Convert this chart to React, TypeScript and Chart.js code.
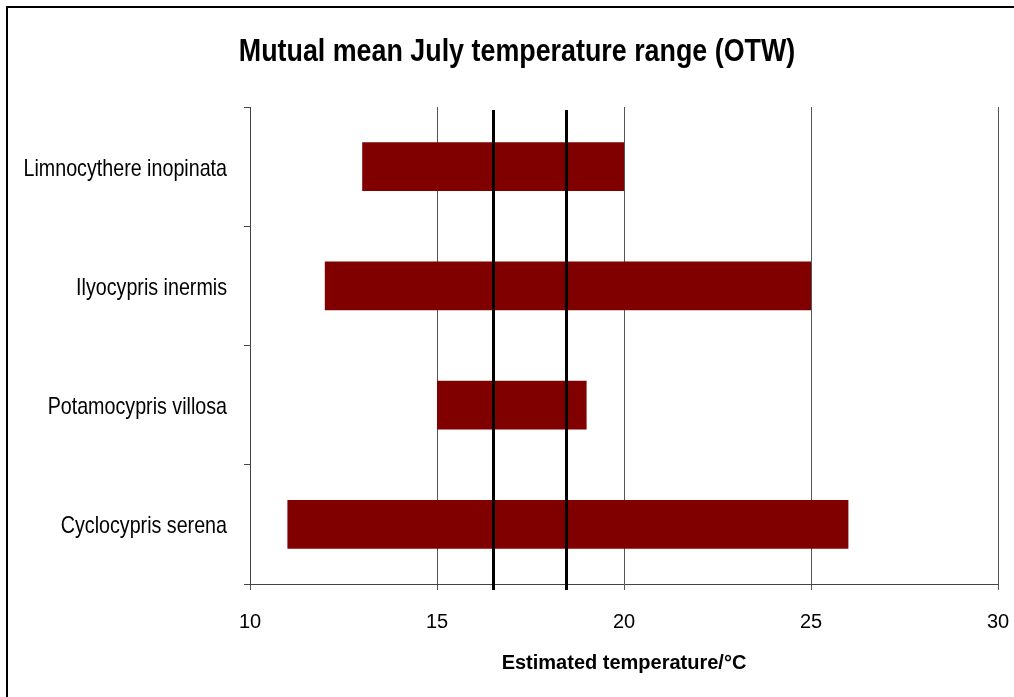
import React, { useEffect, useRef } from "react";
import { Chart, registerables } from "chart.js";

Chart.register(...registerables);

const titleText = "Mutual mean July temperature range (OTW)";
const xAxisTitle = "Estimated temperature/°C";
const species = [
  "Limnocythere inopinata",
  "Ilyocypris inermis",
  "Potamocypris villosa",
  "Cyclocypris serena",
];
const rangeMin = [13, 12, 15, 11];
const rangeMax = [20, 25, 19, 26];
const mutualBounds = [16.5, 18.45];
const xMin = 10;
const xMax = 30;
const xStep = 5;

const ARIAL = "'Liberation Sans', Arial, sans-serif";
const NARROW_SCALE = 0.82;
const TITLE_SCALE = 0.866;

const refLines = {
  id: "refLines",
  afterDatasetsDraw(chart: any) {
    const { ctx, chartArea, scales } = chart;
    const x = scales.x;
    ctx.save();
    ctx.strokeStyle = "#000";
    ctx.lineWidth = 3;
    mutualBounds.forEach((v) => {
      const px = Math.round(x.getPixelForValue(v)) + 0.5;
      ctx.beginPath();
      ctx.moveTo(px, chartArea.top + 3);
      ctx.lineTo(px, chartArea.bottom + 6);
      ctx.stroke();
    });
    ctx.restore();
  },
};

// Draws the title and category labels in a horizontally condensed face
// (the original uses Arial Narrow, which is not installed).
const narrowText = {
  id: "narrowText",
  afterDraw(chart: any) {
    const { ctx, scales } = chart;
    const y = scales.y;
    ctx.save();
    ctx.fillStyle = "#000";
    ctx.font = `bold 31px ${ARIAL}`;
    ctx.textAlign = "center";
    ctx.textBaseline = "alphabetic";
    ctx.save();
    ctx.translate(chart.width / 2 + 10, 61);
    ctx.scale(TITLE_SCALE, 1);
    ctx.fillText(titleText, 0, 0);
    ctx.restore();
    ctx.font = `24px ${ARIAL}`;
    ctx.textAlign = "right";
    species.forEach((label, i) => {
      const py = y.getPixelForTick(i);
      ctx.save();
      ctx.translate(y.right - 23, py + 9);
      ctx.scale(NARROW_SCALE, 1);
      ctx.fillText(label, 0, 0);
      ctx.restore();
    });
    ctx.restore();
  },
};

export default function App() {
  const ref = useRef<HTMLCanvasElement | null>(null);

  useEffect(() => {
    if (!ref.current) return;
    const chart = new Chart(ref.current, {
      type: "bar",
      data: {
        labels: species,
        datasets: [
          {
            label: "Range",
            data: species.map((_, i) => [rangeMin[i], rangeMax[i]]) as any,
            backgroundColor: "#800000",
            borderWidth: 0,
            barPercentage: 0.41,
            categoryPercentage: 1,
          },
        ],
      },
      options: {
        indexAxis: "y",
        responsive: false,
        animation: false,
        devicePixelRatio: 1,
        layout: { padding: { left: 0, right: 16, top: 107, bottom: 0 } },
        plugins: {
          legend: { display: false },
          tooltip: { enabled: false },
          title: { display: false },
        },
        scales: {
          x: {
            type: "linear",
            min: xMin,
            max: xMax,
            afterFit(scale: any) {
              scale.height = 113;
              scale.paddingLeft = 0;
              scale.paddingRight = 0;
            },
            ticks: {
              stepSize: xStep,
              color: "#000",
              font: { family: ARIAL, size: 20 },
              padding: 20,
            },
            grid: {
              color: "#555",
              lineWidth: 1,
              tickLength: 6,
              drawTicks: true,
            },
            border: { display: true, color: "#444", width: 1 },
            title: {
              display: true,
              text: xAxisTitle,
              color: "#000",
              font: { family: ARIAL, size: 20, weight: "bold", lineHeight: 1.2 },
              padding: { top: 0, bottom: 22 },
            },
          },
          y: {
            type: "category",
            offset: true,
            afterFit(scale: any) {
              scale.width = 250;
              scale.paddingTop = 0;
              scale.paddingBottom = 0;
            },
            ticks: {
              display: false,
            },
            grid: {
              offset: true,
              drawOnChartArea: false,
              drawTicks: true,
              tickLength: 6,
              color: "#444",
            },
            border: { display: true, color: "#444", width: 1 },
          },
        },
      } as any,
      plugins: [refLines, narrowText],
    });
    return () => chart.destroy();
  }, []);

  return (
    <div
      style={{
        position: "fixed",
        left: 0,
        top: 0,
        width: 1014,
        height: 697,
        background: "#fff",
        overflow: "hidden",
      }}
    >
      <div
        style={{
          position: "absolute",
          left: 6,
          top: 6,
          width: 1100,
          height: 800,
          border: "2px solid #000",
        }}
      />
      <canvas
        ref={ref}
        width={1014}
        height={697}
        style={{ position: "absolute", left: 0, top: 0, width: 1014, height: 697 }}
      />
    </div>
  );
}
